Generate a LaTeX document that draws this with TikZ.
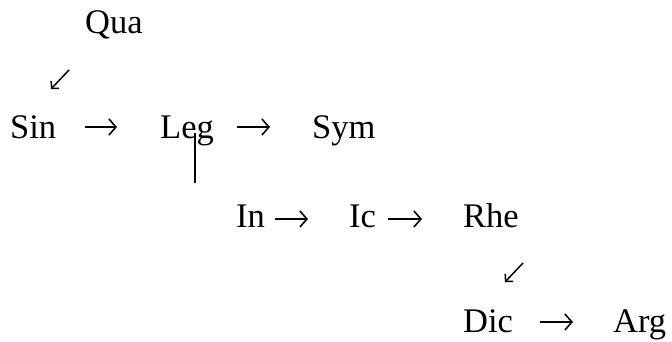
\documentclass[tikz,border=0pt]{standalone}
\usepackage{fontspec}
\setmainfont{Liberation Serif}
\usetikzlibrary{arrows.meta}
\begin{document}
\begin{tikzpicture}[x=1pt,y=-1pt,
  word/.style={anchor=base west,inner sep=0pt,font=\fontsize{34.5}{40}\selectfont},
  arr/.style={line width=1.6pt,-{Straight Barb[length=7pt,width=16pt]}},
  darr/.style={line width=1.5pt,-{Straight Barb[length=5pt,width=11pt]}},
  bar/.style={line width=1.4pt}]
\useasboundingbox (0,0) rectangle (672,341);
% words
\node[word] (qua) at (85,33) {Qua};
\node[word] (sin) at (10,138) {Sin};
\node[word] (leg) at (160,138) {Leg};
\node[word] (sym) at (312,138) {Sym};
\node[word] (in) at (236,227) {In};
\node[word] (ic) at (349,227) {Ic};
\node[word] (rhe) at (463,227) {Rhe};
\node[word] (dic) at (463,332) {Dic};
\node[word] (arg) at (613,332) {Arg};
% arrow end points
\coordinate (a1s) at (69,70);   \coordinate (a1e) at (51,89);
\coordinate (a2s) at (85,127);  \coordinate (a2e) at (117,127);
\coordinate (a3s) at (237,127); \coordinate (a3e) at (270,127);
\coordinate (b1s) at (195,133); \coordinate (b1e) at (195,183);
\coordinate (a4s) at (275,219); \coordinate (a4e) at (308,219);
\coordinate (a5s) at (388,219); \coordinate (a5e) at (422,219);
\coordinate (a6s) at (523,263); \coordinate (a6e) at (505,282);
\coordinate (a7s) at (540,322); \coordinate (a7e) at (573,322);
% connectors
\draw[darr] (a1s) -- (a1e);
\draw[arr] (a2s) -- (a2e);
\draw[arr] (a3s) -- (a3e);
\draw[bar] (b1s) -- (b1e);
\draw[arr] (a4s) -- (a4e);
\draw[arr] (a5s) -- (a5e);
\draw[darr] (a6s) -- (a6e);
\draw[arr] (a7s) -- (a7e);
\end{tikzpicture}
\end{document}
